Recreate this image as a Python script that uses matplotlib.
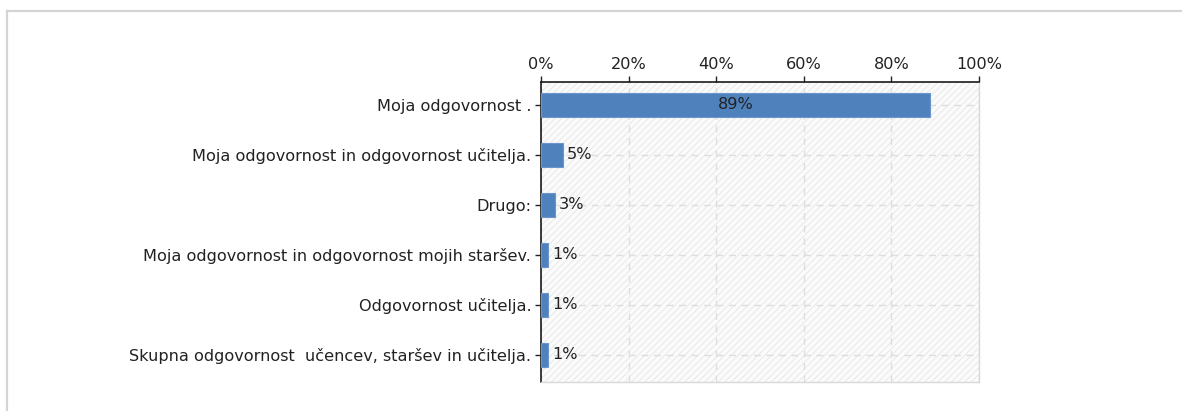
import matplotlib
matplotlib.use("Agg")
import matplotlib.pyplot as plt
from matplotlib.patches import Rectangle
from matplotlib.lines import Line2D

categories = [
    "Moja odgovornost .",
    "Moja odgovornost in odgovornost učitelja.",
    "Drugo:",
    "Moja odgovornost in odgovornost mojih staršev.",
    "Odgovornost učitelja.",
    "Skupna odgovornost  učencev, staršev in učitelja.",
]
values = [88.7, 5.0, 3.2, 1.7, 1.7, 1.7]
value_labels = ["89%", "5%", "3%", "1%", "1%", "1%"]
xticks = [0, 20, 40, 60, 80, 100]
xtick_labels = ["0%", "20%", "40%", "60%", "80%", "100%"]

plt.rcParams["font.family"] = "DejaVu Sans"
plt.rcParams["hatch.linewidth"] = 0.7
plt.rcParams["hatch.color"] = "#e8e8e8"

fs = 11.6

fig = plt.figure(figsize=(11.82, 4.11), dpi=100)
ax = fig.add_axes([0.4577, 0.0706, 0.3706, 0.7299])

# hatched background
ax.add_patch(Rectangle((0, 0), 1, 1, transform=ax.transAxes, facecolor="#fbfbfb",
                       edgecolor="#e8e8e8", hatch="/////", linewidth=0, zorder=0))

ypos = list(range(len(categories)))
ax.barh(ypos, values, height=0.48, color="#4f81bd", edgecolor="#6a96cc",
        linewidth=0.8, zorder=3)

for y, v, lab in zip(ypos, values, value_labels):
    if v > 50:
        ax.text(v / 2, y, lab, ha="center", va="center", fontsize=fs,
                color="#222222", zorder=4)
    else:
        ax.text(v + 0.9, y, lab, ha="left", va="center", fontsize=fs,
                color="#222222", zorder=4)

ax.set_xlim(0, 100)
ax.set_ylim(5.54, -0.46)
ax.set_xticks(xticks)
ax.set_xticklabels(xtick_labels)
ax.set_yticks(ypos)
ax.set_yticklabels(categories)
ax.xaxis.tick_top()
ax.tick_params(axis="x", direction="out", length=4, width=1, pad=3,
               labelsize=fs, colors="#222222")
ax.tick_params(axis="y", direction="out", length=4, width=1, pad=3,
               labelsize=fs, colors="#222222")

ax.grid(True, color="#dedede", linestyle=(0, (5, 4)), linewidth=1, zorder=1)
ax.set_axisbelow(True)

for s in ["top", "left"]:
    ax.spines[s].set_color("#1a1a1a")
    ax.spines[s].set_linewidth(1.2)
for s in ["right", "bottom"]:
    ax.spines[s].set_color("#d8d8d8")
    ax.spines[s].set_linewidth(1)
    ax.spines[s].set_linestyle((0, (3, 1)))

# outer frame of the panel
fig.add_artist(Line2D([7 / 1182, 1], [1 - 11 / 411, 1 - 11 / 411],
                      transform=fig.transFigure, color="#d4d4d4", linewidth=1.6))
fig.add_artist(Line2D([7 / 1182, 7 / 1182], [0, 1 - 11 / 411],
                      transform=fig.transFigure, color="#d4d4d4", linewidth=1.6))

fig.savefig("out.png", dpi=100, facecolor="white")
